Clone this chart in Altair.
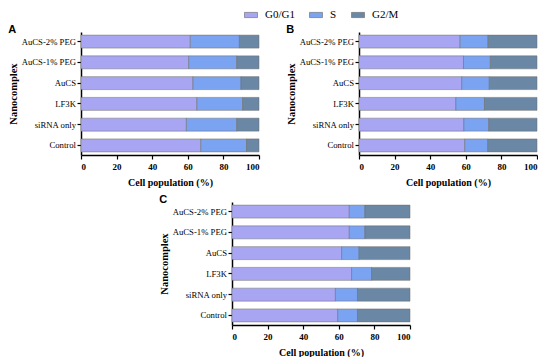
import altair as alt
import pandas as pd

categories = ["AuCS-2% PEG", "AuCS-1% PEG", "AuCS", "LF3K", "siRNA only", "Control"]
phases = ["G0/G1", "S", "G2/M"]
colors = ["#a8a6f2", "#7aa3f2", "#6a88a5"]

a_g0 = [61.4, 60.5, 62.9, 65.1, 59.2, 67.3]
a_s = [27.6, 27.0, 27.0, 25.7, 28.3, 25.7]
a_g2 = [11.0, 12.5, 10.1, 9.2, 12.5, 7.0]

b_g0 = [56.8, 58.7, 57.7, 54.4, 58.9, 59.4]
b_s = [15.7, 15.1, 15.5, 16.1, 14.0, 12.9]
b_g2 = [27.5, 26.2, 26.8, 29.5, 27.1, 27.7]

c_g0 = [65.9, 65.9, 61.6, 67.2, 58.1, 59.4]
c_s = [8.8, 8.8, 9.8, 11.2, 12.4, 11.1]
c_g2 = [25.3, 25.3, 28.6, 21.6, 29.5, 29.5]

x_ticks = [0, 20, 40, 60, 80, 100]

SERIF = "Liberation Serif"


def make_df(g0, s, g2):
    rows = []
    for i, cat in enumerate(categories):
        for j, (ph, vals) in enumerate(zip(phases, [g0, s, g2])):
            rows.append({"cat": cat, "phase": ph, "value": vals[i], "idx": j})
    return pd.DataFrame(rows)


legend = alt.Legend(
    orient="none", legendX=163, legendY=-24, direction="horizontal", columns=3,
    title=None, symbolType="M-1,-0.4H1V0.4H-1Z", symbolSize=169, padding=0,
    symbolStrokeColor="#666666", symbolStrokeWidth=0.6, symbolOpacity=1,
    labelFont=SERIF, labelFontSize=11, labelColor="black",
    columnPadding=13, labelOffset=7,
)

axis_common = dict(
    grid=False, domainColor="black", domainWidth=1.5, tickColor="black", tickWidth=1.2,
    tickSize=4, labelColor="black", labelFont=SERIF,
    titleFont=SERIF, titleFontWeight="bold", titleColor="black",
)


def panel(df, letter):
    return alt.Chart(df).mark_bar(stroke="#6b6b6b", strokeWidth=0.5, opacity=1).encode(
        x=alt.X("value:Q", stack="zero",
                scale=alt.Scale(domain=[0, 100], nice=False),
                axis=alt.Axis(values=x_ticks, title="Cell population (%)",
                              labelFontSize=9, titleFontSize=10,
                              labelFontWeight="bold", titlePadding=6, labelPadding=3,
                              **axis_common)),
        y=alt.Y("cat:N", sort=categories,
                scale=alt.Scale(paddingInner=0.375, paddingOuter=0.15),
                axis=alt.Axis(title="Nanocomplex", titlePadding=3, labelPadding=1.5,
                              labelFontSize=8.7, titleFontSize=10.5,
                              **axis_common)),
        color=alt.Color("phase:N", scale=alt.Scale(domain=phases, range=colors), legend=legend),
        order=alt.Order("idx:Q"),
    ).properties(
        width=178, height=123,
        title=alt.TitleParams(letter, anchor="start", frame="bounds", font="Liberation Sans",
                              fontSize=11, fontWeight="bold", offset=-3, color="black"),
    )


pa = panel(make_df(a_g0, a_s, a_g2), "A")
pb = panel(make_df(b_g0, b_s, b_g2), "B")
pc = panel(make_df(c_g0, c_s, c_g2), "C")

spacer = alt.Chart(pd.DataFrame({"v": [0]})).mark_point(opacity=0).encode(
    x=alt.X("v:Q", axis=None), y=alt.Y("v:Q", axis=None)
).properties(width=58, height=10)

top = alt.hconcat(pa, pb, spacing=26)
bottom = alt.hconcat(spacer, pc, spacing=20)

chart = alt.vconcat(top, bottom, spacing=7).resolve_scale(
    x="independent", y="independent", color="shared"
).properties(padding=0).configure_view(stroke=None)

chart.save("out.html", embed_options={"renderer": "svg", "actions": False})
